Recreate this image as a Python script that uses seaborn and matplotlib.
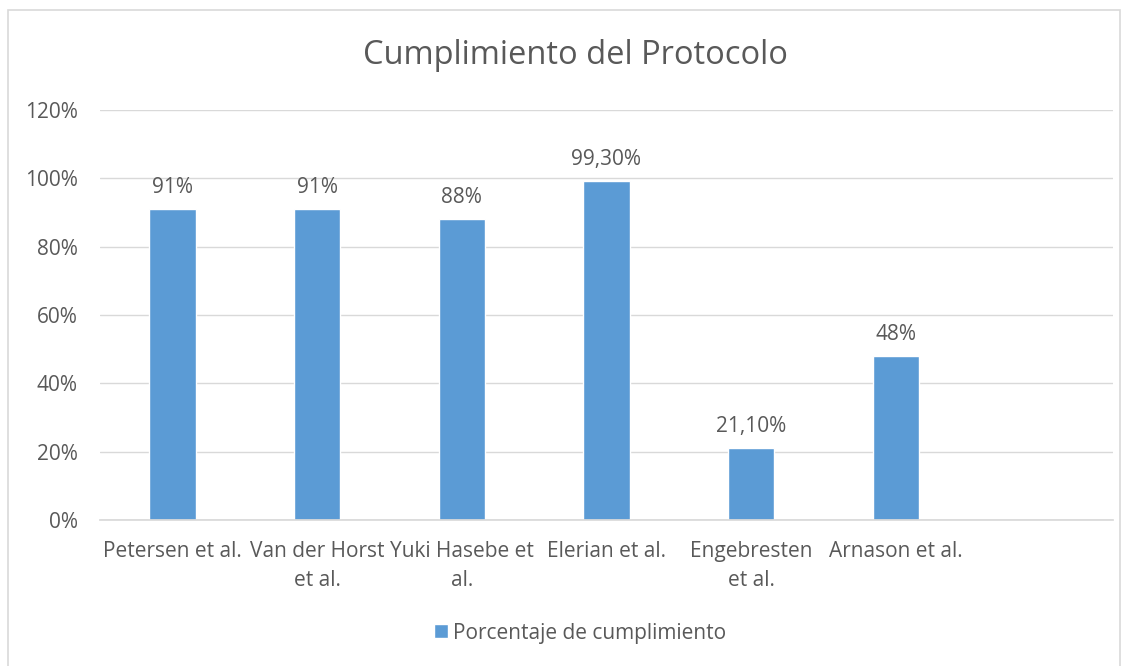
import pandas as pd
import numpy as np
import matplotlib
matplotlib.use("Agg")
import matplotlib.pyplot as plt
import seaborn as sns
from matplotlib.patches import Rectangle
from matplotlib.ticker import PercentFormatter

sns.set_theme(style="white")
plt.rcParams['font.family'] = ['Open Sans', 'DejaVu Sans']

# data
estudios = ["Petersen et al.", "Van der Horst\net al.", "Yuki Hasebe et\nal.",
            "Elerian et al.", "Engebresten\net al.", "Arnason et al."]
cumplimiento = [0.91, 0.91, 0.88, 0.993, 0.211, 0.48]
etiquetas = ["91%", "91%", "88%", "99,30%", "21,10%", "48%"]
orden = estudios + [" "]  # empty slot at the end, as in the original

txt = "#595959"
azul = "#5B9BD5"
gris = "#D9D9D9"
fs = 15

df = pd.DataFrame({"estudio": estudios, "cumplimiento": cumplimiento})

fig = plt.figure(figsize=(11.29, 6.66), dpi=100)
ax = fig.add_axes([100/1129, 1-520/666, 1013/1129, 410/666])

sns.barplot(data=df, x="estudio", y="cumplimiento", order=orden, color=azul,
            width=0.32, saturation=1, ax=ax, label="Porcentaje de cumplimiento")

for p, lab in zip(ax.patches, etiquetas):
    ax.annotate(lab, (p.get_x() + p.get_width()/2, p.get_height()),
                xytext=(0, 8), textcoords="offset points",
                ha="center", va="bottom", fontsize=fs, color=txt)

ax.set_ylim(0, 1.2)
ax.set_yticks(np.arange(0, 1.21, 0.2))
ax.yaxis.set_major_formatter(PercentFormatter(1.0, decimals=0))
ax.grid(axis="y", color=gris, lw=1)
ax.set_axisbelow(True)
for s in ["top", "right", "left"]:
    ax.spines[s].set_visible(False)
ax.spines["bottom"].set_color(gris)
ax.tick_params(axis="both", length=0, labelsize=fs, colors=txt)
ax.tick_params(axis="y", pad=16)
ax.tick_params(axis="x", pad=15)
for t in ax.get_xticklabels():
    t.set_multialignment("center")
    t.set_linespacing(1.5)
ax.set_xlabel("")
ax.set_ylabel("")

fig.text(575/1129, 1-56/666, "Cumplimiento del Protocolo", ha="center", va="center",
         fontsize=23.5, color=txt)

if ax.get_legend():
    ax.get_legend().remove()
h, l = ax.get_legend_handles_labels()
fig.legend(h[:1], l[:1], loc="center", bbox_to_anchor=(580/1129, 1-633/666),
           frameon=False, fontsize=fs, labelcolor=txt, handlelength=0.65,
           handleheight=0.65, handletextpad=0.25)

fig.patches.append(Rectangle((8/1129, -0.01), 1112/1129, 1-10/666+0.01,
                             transform=fig.transFigure, fill=False,
                             edgecolor=gris, lw=1.2))

fig.savefig("out.png", dpi=100)
